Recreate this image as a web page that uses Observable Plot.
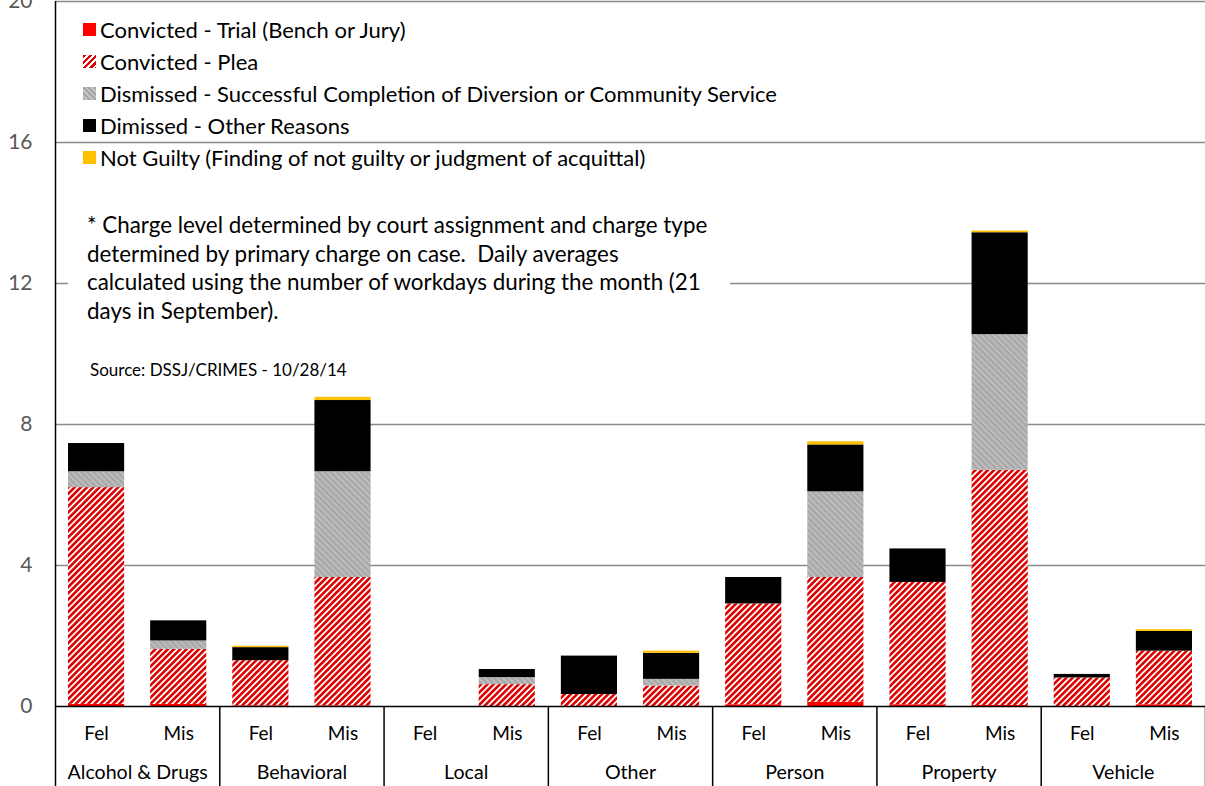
<!DOCTYPE html>
<html>
<head>
<meta charset="utf-8">
<script src="https://cdn.jsdelivr.net/npm/d3@7"></script>
<script src="https://cdn.jsdelivr.net/npm/@observablehq/plot@0.6"></script>
<style>
  html, body { margin: 0; padding: 0; background: #fff; }
  #wrap { position: relative; width: 1205px; height: 786px; overflow: hidden; font-family: Lato, "Open Sans", sans-serif; }
  #wrap svg { position: absolute; left: 0; top: 0; }
  .legend { position: absolute; left: 83px; top: 13px; font-size: 22px; color: #000; }
  .legend .item { height: 32px; display: flex; align-items: center; white-space: nowrap; }
  .legend .sw { width: 13px; height: 13px; margin-right: 4px; flex: none; }
  .note { position: absolute; left: 68px; top: 199px; width: 643px; padding: 12px 0 4px 19px; background: #fff;
          font-size: 22.4px; line-height: 28.7px; color: #000; white-space: pre; }
  .source { position: absolute; left: 90px; top: 360px; font-size: 17px; line-height: 20px; color: #000; white-space: nowrap; }
</style>
</head>
<body>
<div id="wrap"></div>
<script>
// ---- data ----
const categories = ["Alcohol & Drugs", "Behavioral", "Local", "Other", "Person", "Property", "Vehicle"];
const levels = ["Fel", "Mis"];
const seriesNames = [
  "Convicted - Trial (Bench or Jury)",
  "Convicted - Plea",
  "Dismissed - Successful Completion of Diversion or Community Service",
  "Dimissed - Other Reasons",
  "Not Guilty (Finding of not guilty or judgment of acquittal)"
];
// order of bars: each category Fel, Mis
const trial      = [0.06, 0.06, 0.02, 0.02, 0, 0,    0,    0,    0.05, 0.12, 0.05, 0.03, 0,    0.05];
const plea       = [6.15, 1.56, 1.28, 3.64, 0, 0.62, 0.34, 0.58, 2.86, 3.54, 3.47, 6.67, 0.81, 1.52];
const dismissedDiversion = [0.45, 0.24, 0, 3.00, 0, 0.20, 0, 0.19, 0, 2.43, 0, 3.85, 0, 0];
const dismissedOther     = [0.80, 0.57, 0.37, 2.02, 0, 0.23, 1.09, 0.74, 0.75, 1.33, 0.95, 2.89, 0.10, 0.56];
const notGuilty  = [0, 0, 0.04, 0.09, 0, 0, 0, 0.06, 0, 0.09, 0, 0.05, 0, 0.05];
const yTicks = [0, 4, 8, 12, 16, 20];
const seriesFills = ["#FF0000", "url(#hatchRed)", "url(#hatchGray)", "#000000", "#FFC000"];
const legendSwatches = [
  "#FF0000",
  "repeating-linear-gradient(135deg, #E00000 0 2.4px, #fff 2.4px 4.4px)",
  "repeating-linear-gradient(45deg, #A6A6A6 0 2px, #C4C4C4 2px 4px)",
  "#000000",
  "#FFC000"
];

// ---- build table ----
const seriesValues = [trial, plea, dismissedDiversion, dismissedOther, notGuilty];
const rows = [];
categories.forEach((cat, g) => {
  levels.forEach((lev, l) => {
    const b = g * levels.length + l;
    seriesValues.forEach((vals, s) => {
      rows.push({pos: b, category: cat, level: lev, series: seriesNames[s], value: vals[b]});
    });
  });
});
const nBars = categories.length * levels.length;
const barCenters = d3.range(nBars).map(b => b + 0.5);
const groupCenters = categories.map((c, g) => g * levels.length + levels.length / 2);
const groupBounds = d3.range(categories.length + 1).map(g => g * levels.length);

const plot = Plot.plot({
  width: 1205,
  height: 786,
  marginLeft: 55,
  marginRight: 0,
  marginTop: 1,
  marginBottom: 80,
  x: {type: "linear", domain: [0, nBars], axis: null},
  y: {domain: [0, 20], axis: null},
  color: {type: "ordinal", domain: seriesNames, range: seriesFills},
  style: {fontFamily: "Lato, 'Open Sans', sans-serif", color: "#000", background: "transparent"},
  marks: [
    Plot.ruleY(yTicks.filter(t => t > 0), {stroke: "#8a8a8a", strokeWidth: 1.5}),
    Plot.rectY(rows, {
      x1: "pos",
      x2: d => d.pos + 1,
      y: "value",
      fill: "series",
      insetLeft: 13,
      insetRight: 13
    }),
    Plot.ruleY([0], {stroke: "#000", strokeWidth: 1.5}),
    Plot.ruleX([0], {stroke: "#000", strokeWidth: 1.5}),
    Plot.axisY({ticks: yTicks, tickSize: 0, tickPadding: 23, fontSize: 21, color: "#595959", label: null}),
    Plot.axisX({ticks: groupBounds, tickSize: 80, tickFormat: () => "", strokeWidth: 1.5, label: null}),
    Plot.axisX({ticks: barCenters, tickSize: 0, tickPadding: 20, fontSize: 19,
                tickFormat: v => levels[Math.floor(v) % levels.length], label: null}),
    Plot.axisX({ticks: groupCenters, tickSize: 0, tickPadding: 59, fontSize: 19.6,
                tickFormat: v => categories[Math.floor(v / levels.length)], label: null})
  ]
});

// hatch patterns used by the fills
const defs = document.createElementNS("http://www.w3.org/2000/svg", "defs");
defs.innerHTML = `
  <pattern id="hatchRed" patternUnits="userSpaceOnUse" width="4.4" height="4.4" patternTransform="rotate(45)">
    <rect width="4.4" height="4.4" fill="#ffffff"/>
    <rect width="2.6" height="4.4" fill="#DD0000"/>
  </pattern>
  <pattern id="hatchGray" patternUnits="userSpaceOnUse" width="4.3" height="4.3" patternTransform="rotate(-45)">
    <rect width="4.3" height="4.3" fill="#A8A8A8"/>
    <rect width="2" height="4.3" fill="#BDBDBD"/>
  </pattern>`;
plot.insertBefore(defs, plot.firstChild);

const wrap = document.getElementById("wrap");
wrap.appendChild(plot);

// legend
const legend = document.createElement("div");
legend.className = "legend";
seriesNames.forEach((name, i) => {
  const item = document.createElement("div");
  item.className = "item";
  const sw = document.createElement("span");
  sw.className = "sw";
  sw.style.background = legendSwatches[i];
  const tx = document.createElement("span");
  tx.textContent = name;
  item.appendChild(sw);
  item.appendChild(tx);
  legend.appendChild(item);
});
wrap.appendChild(legend);

// note
const noteLines = [
  "* Charge level determined by court assignment and charge type",
  "determined by primary charge on case.  Daily averages",
  "calculated using the number of workdays during the month (21",
  "days in September)."
];
const note = document.createElement("div");
note.className = "note";
note.textContent = noteLines.join("\n");
wrap.appendChild(note);

const source = document.createElement("div");
source.className = "source";
source.textContent = "Source: DSSJ/CRIMES - 10/28/14";
wrap.appendChild(source);
</script>
</body>
</html>
